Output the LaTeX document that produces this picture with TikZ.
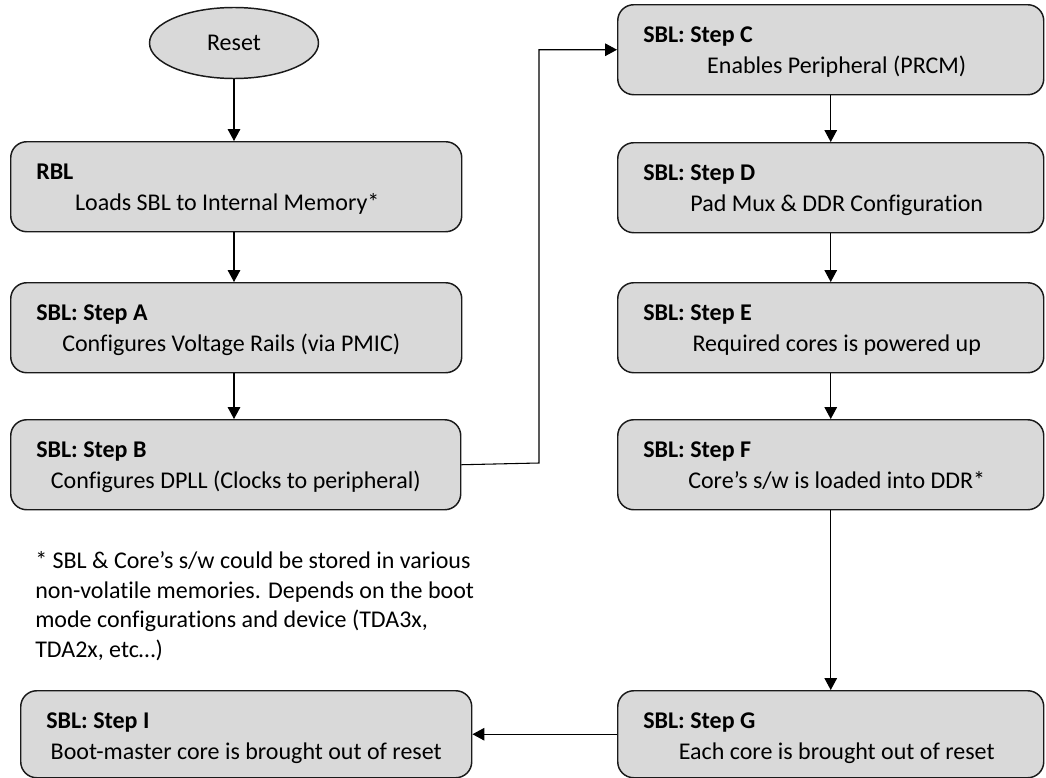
\documentclass[tikz,border=0pt]{standalone}
\usepackage{fontspec}
\setmainfont{Carlito}[Ligatures=NoCommon]
\usetikzlibrary{arrows.meta,shapes.geometric,calc}
\definecolor{boxgray}{HTML}{D9D9D9}
\definecolor{edge}{HTML}{1A1A1A}
\begin{document}
\begin{tikzpicture}[x=0.75pt,y=-0.75pt,
  txt/.style={font=\fontsize{18}{22.3}\selectfont, inner sep=0pt},
  box/.style={draw=edge, line width=1.1pt, fill=boxgray, rounded corners=12pt,
    minimum height=90*0.75pt, inner sep=0pt, anchor=north west},
  lbox/.style={box, minimum width=451*0.75pt},
  rbox/.style={box, minimum width=426*0.75pt},
  ttl/.style={txt, font=\fontsize{18}{22.3}\selectfont\bfseries, anchor=base west},
  bdy/.style={txt, anchor=base},
  arr/.style={draw=black, line width=0.8pt, -{Triangle[length=9pt,width=9.5pt]}}]
\useasboundingbox (0,0) rectangle (1046,778);

% Reset
\node[ellipse, draw=edge, line width=1.1pt, fill=boxgray, minimum width=169*0.75pt,
  minimum height=71*0.75pt, inner sep=0pt, txt] (reset) at (234,43) {Reset};

% left column
\node[lbox] (rbl) at (10,141) {};
\node[lbox] (sa) at (10,282) {};
\node[lbox, minimum width=450*0.75pt] (sb) at (10,419) {};
\node[lbox, minimum height=87*0.75pt] (si) at (20,690) {};

% right column
\node[rbox] (sc) at (617,4) {};
\node[rbox] (sd) at (617,142) {};
\node[rbox] (se) at (617,282) {};
\node[rbox] (sf) at (617,419) {};
\node[rbox, minimum height=87*0.75pt] (sg) at (617,690) {};

% titles
\node[ttl] (trbl) at ($(rbl.north west)+(26,38)$) {RBL};
\node[ttl] (tsa) at ($(sa.north west)+(26,38)$) {SBL: Step A};
\node[ttl] (tsb) at ($(sb.north west)+(26,38)$) {SBL: Step B};
\node[ttl] (tsi) at ($(si.north west)+(26,38)$) {SBL: Step I};
\node[ttl] (tsc) at ($(sc.north west)+(26,38)$) {SBL: Step C};
\node[ttl] (tsd) at ($(sd.north west)+(26,38)$) {SBL: Step D};
\node[ttl] (tse) at ($(se.north west)+(26,38)$) {SBL: Step E};
\node[ttl] (tsf) at ($(sf.north west)+(26,38)$) {SBL: Step F};
\node[ttl] (tsg) at ($(sg.north west)+(26,38)$) {SBL: Step G};

% bodies
\node[bdy] (brbl) at ($(rbl.north)+(-9,69)$) {Loads SBL to Internal Memory*};
\node[bdy] (bsa) at ($(sa.north)+(-5,69)$) {Configures Voltage Rails (via PMIC)};
\node[bdy] (bsb) at ($(sb.north)+(0,69)$) {Configures DPLL (Clocks to peripheral)};
\node[bdy] (bsi) at ($(si.north)+(0,69)$) {Boot-master core is brought out of reset};
\node[bdy] (bsc) at ($(sc.north)+(6,69)$) {Enables Peripheral (PRCM)};
\node[bdy] (bsd) at ($(sd.north)+(6,69)$) {Pad Mux \& DDR Configuration};
\node[bdy] (bse) at ($(se.north)+(6,69)$) {Required cores is powered up};
\node[bdy] (bsf) at ($(sf.north)+(6,69)$) {Core’s s/w is loaded into DDR*};
\node[bdy] (bsg) at ($(sg.north)+(6,69)$) {Each core is brought out of reset};

% footnote
\node[txt, anchor=north west, align=left] (note) at (35,551)
  {* SBL \& Core’s s/w could be stored in various\\
   non-volatile memories. Depends on the boot\\
   mode configurations and device (TDA3x,\\
   TDA2x, etc…)};

% connectors
\draw[arr] (reset.south) -- (reset.south |- rbl.north);
\draw[arr] (reset.south |- rbl.south) -- (reset.south |- sa.north);
\draw[arr] (reset.south |- sa.south) -- (reset.south |- sb.north);
\coordinate (bend) at (539,463);
\draw[arr] (sb.east) -- (bend) |- (sc.west);
\draw[arr] (sc) -- (sd);
\draw[arr] (sd) -- (se);
\draw[arr] (se) -- (sf);
\draw[arr] (sf) -- (sg);
\draw[arr] (sg.west) -- (sg.west -| si.east);
\end{tikzpicture}
\end{document}
